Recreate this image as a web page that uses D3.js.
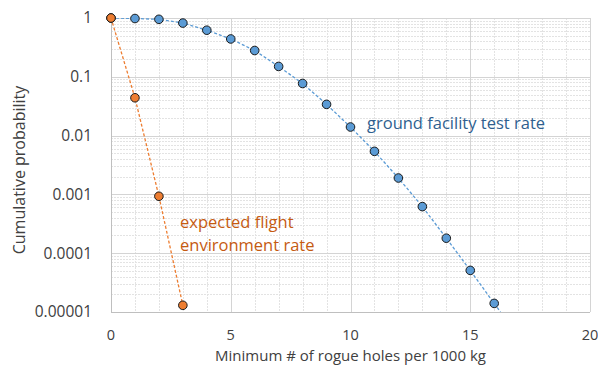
<!DOCTYPE html>
<html>
<head>
<meta charset="utf-8">
<script src="https://cdn.jsdelivr.net/npm/d3@7"></script>
<style>
  body { margin: 0; background: #fff; }
  text { font-family: "Open Sans", "Noto Sans", sans-serif; }
</style>
</head>
<body>
<svg id="chart" width="598" height="365"></svg>
<script>
// data
var groundX = [0, 1, 2, 3, 4, 5, 6, 7, 8, 9, 10, 11, 12, 13, 14, 15, 16];
var groundY = [1, 0.98, 0.95, 0.82, 0.62, 0.44, 0.28, 0.15, 0.077, 0.034, 0.014,
               0.0054, 0.0019, 0.00062, 0.00018, 0.000051, 0.000014];
var flightX = [0, 1, 2, 3];
var flightY = [1, 0.044, 0.00093, 0.000013];
var xTicks = [0, 5, 10, 15, 20];
var yTicks = [1, 0.1, 0.01, 0.001, 0.0001, 0.00001];
var yTickLabels = ["1", "0.1", "0.01", "0.001", "0.0001", "0.00001"];

var svg = d3.select("#chart");
var margin = {top: 18, right: 8, bottom: 53, left: 111};
var W = 598 - margin.left - margin.right,
    H = 365 - margin.top - margin.bottom;

var x = d3.scaleLinear().domain([0, 20]).range([0, W]);
var y = d3.scaleLog().domain([0.00001, 1]).range([H, 0]);

var g = svg.append("g").attr("transform", "translate(" + margin.left + "," + margin.top + ")");

g.append("clipPath").attr("id", "clip")
  .append("rect").attr("width", W).attr("height", H);

// minor grid
var minorY = [];
yTicks.slice(1).forEach(function(t) {
  for (var k = 2; k <= 9; k++) minorY.push(t * k);
});
g.selectAll(".minor-y").data(minorY).enter().append("line")
  .attr("x1", 0).attr("x2", W)
  .attr("y1", function(d) { return Math.round(y(d)) + 0.5; })
  .attr("y2", function(d) { return Math.round(y(d)) + 0.5; })
  .attr("stroke", "#e3e3e3").attr("stroke-dasharray", "2,1");
g.selectAll(".minor-x").data(d3.range(1, 20).filter(function(d) { return d % 5; }))
  .enter().append("line")
  .attr("y1", 0).attr("y2", H)
  .attr("x1", function(d) { return Math.round(x(d)) + 0.5; })
  .attr("x2", function(d) { return Math.round(x(d)) + 0.5; })
  .attr("stroke", "#e3e3e3").attr("stroke-dasharray", "2,1");

// major grid
g.selectAll(".major-y").data(yTicks).enter().append("line")
  .attr("x1", 0).attr("x2", W)
  .attr("y1", function(d) { return Math.round(y(d)) + 0.5; })
  .attr("y2", function(d) { return Math.round(y(d)) + 0.5; })
  .attr("stroke", "#d4d4d4");
g.selectAll(".major-x").data(xTicks).enter().append("line")
  .attr("y1", 0).attr("y2", H)
  .attr("x1", function(d) { return Math.round(x(d)) + 0.5; })
  .attr("x2", function(d) { return Math.round(x(d)) + 0.5; })
  .attr("stroke", "#d4d4d4");

// axes lines
g.append("line").attr("x1", 0.5).attr("x2", 0.5).attr("y1", 0).attr("y2", H)
  .attr("stroke", "#bfbfbf");
g.append("line").attr("x1", 0).attr("x2", W).attr("y1", H + 0.5).attr("y2", H + 0.5)
  .attr("stroke", "#bfbfbf");

// tick labels
g.selectAll(".ylab").data(yTicks).enter().append("text")
  .attr("x", -19).attr("y", function(d) { return y(d); })
  .attr("dy", "0.35em").attr("text-anchor", "end")
  .attr("font-size", 15.5).attr("fill", "#404040")
  .text(function(d, i) { return yTickLabels[i]; });
g.selectAll(".xlab").data(xTicks).enter().append("text")
  .attr("x", function(d) { return x(d); }).attr("y", H + 23)
  .attr("dy", "0.35em").attr("text-anchor", "middle")
  .attr("font-size", 14.5).attr("fill", "#404040")
  .text(function(d) { return d; });

// axis titles
svg.append("text")
  .attr("x", margin.left + x(10)).attr("y", 356).attr("dy", "0.35em")
  .attr("text-anchor", "middle").attr("font-size", 15).attr("fill", "#404040")
  .text("Minimum # of rogue holes per 1000 kg");
svg.append("text")
  .attr("transform", "translate(19,170) rotate(-90)").attr("dy", "0.35em")
  .attr("text-anchor", "middle").attr("font-size", 16).attr("fill", "#404040")
  .text("Cumulative probability");

// lines
var line = d3.line()
  .x(function(d) { return x(d[0]); })
  .y(function(d) { return y(d[1]); });

var ground = d3.zip(groundX, groundY);
var flight = d3.zip(flightX, flightY);

// extend ground trend past the last point to the bottom of the plot
var n = ground.length;
var slope = (Math.log10(ground[n - 1][1]) - Math.log10(ground[n - 2][1]));
var groundExt = ground.concat([[ground[n - 1][0] + 1, Math.pow(10, Math.log10(ground[n - 1][1]) + slope)]]);

var plot = g.append("g").attr("clip-path", "url(#clip)");
plot.append("path").attr("d", line(groundExt))
  .attr("fill", "none").attr("stroke", "#5b9bd5").attr("stroke-width", 1.3)
  .attr("stroke-dasharray", "3,2");
plot.append("path").attr("d", line(flight))
  .attr("fill", "none").attr("stroke", "#ed7d31").attr("stroke-width", 1.3)
  .attr("stroke-dasharray", "3,2");

g.selectAll(".gdot").data(ground).enter().append("circle")
  .attr("cx", function(d) { return x(d[0]); })
  .attr("cy", function(d) { return y(d[1]); })
  .attr("r", 4.3).attr("fill", "#5b9bd5").attr("stroke", "#1a1a1a").attr("stroke-width", 1);
g.selectAll(".fdot").data(flight).enter().append("circle")
  .attr("cx", function(d) { return x(d[0]); })
  .attr("cy", function(d) { return y(d[1]); })
  .attr("r", 4.3).attr("fill", "#ed7d31").attr("stroke", "#1a1a1a").attr("stroke-width", 1);

// series labels
svg.append("text").attr("x", 367).attr("y", 123).attr("dy", "0.35em")
  .attr("font-size", 16.5).attr("fill", "#2f5f8f")
  .text("ground facility test rate");
svg.append("text").attr("x", 180).attr("y", 222).attr("dy", "0.35em")
  .attr("font-size", 16.5).attr("fill", "#c55a11")
  .text("expected flight");
svg.append("text").attr("x", 180).attr("y", 245).attr("dy", "0.35em")
  .attr("font-size", 16.5).attr("fill", "#c55a11")
  .text("environment rate");
</script>
</body>
</html>
